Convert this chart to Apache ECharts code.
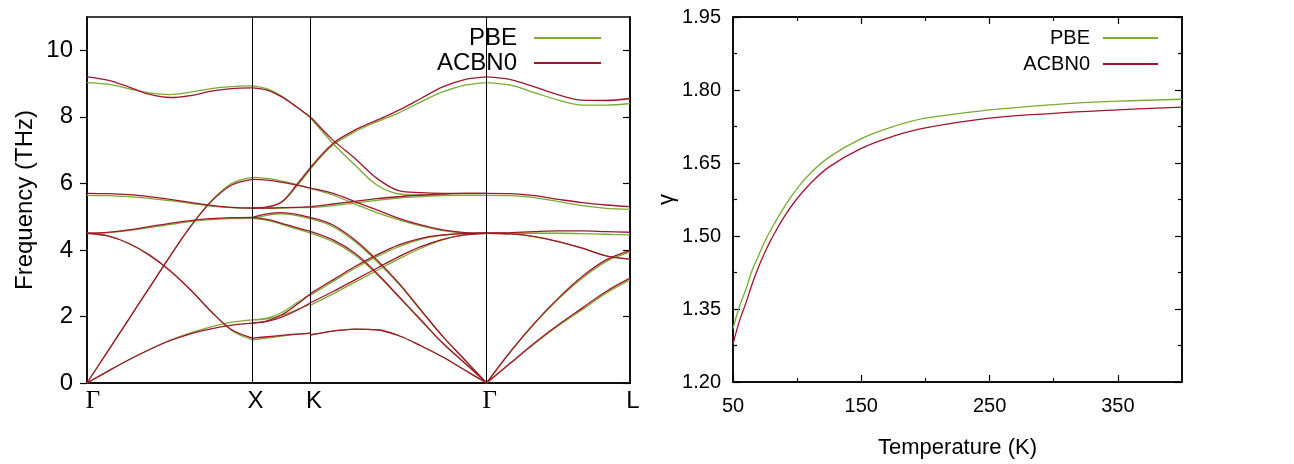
<!DOCTYPE html>
<html><head><meta charset="utf-8">
<script src="https://cdn.jsdelivr.net/npm/echarts@6/dist/echarts.min.js"></script>
<style>html,body{margin:0;padding:0;background:#fff}#c{width:1294px;height:464px}</style>
</head><body><div id="c"></div>
<script>
// ---------- Left panel: phonon dispersion ----------
const kLabels = ['Γ', 'X', 'K', 'Γ', 'L'];
const kPos = [0, 1, 1.3536, 2.4142, 3.2802];
const freqTicks = [0, 2, 4, 6, 8, 10];

// fractional sample positions along each path segment
const tGX = [0, 0.125, 0.25, 0.375, 0.5, 0.625, 0.75, 0.875, 1];
const tXK = [0, 0.25, 0.5, 0.75, 1];
const tKG = [0, 0.125, 0.25, 0.375, 0.5, 0.625, 0.75, 0.875, 1];
const tGL = [0, 1/6, 2/6, 3/6, 4/6, 5/6, 1];

// Γ-X branches (THz)
const acbGX = [
  [0, 0.35, 0.69, 1.0, 1.27, 1.48, 1.63, 1.74, 1.80],
  [0, 0.95, 1.9, 2.85, 3.8, 4.7, 5.45, 5.95, 6.12],
  [4.5, 4.42, 4.2, 3.85, 3.38, 2.8, 2.15, 1.6, 1.35],
  [4.5, 4.53, 4.6, 4.7, 4.8, 4.88, 4.94, 4.97, 4.98],
  [5.7, 5.69, 5.66, 5.6, 5.52, 5.43, 5.34, 5.28, 5.26],
  [9.2, 9.1, 8.9, 8.68, 8.58, 8.64, 8.77, 8.85, 8.87]
];
const pbeGX = [
  [0, 0.35, 0.69, 1.0, 1.28, 1.51, 1.69, 1.83, 1.90],
  [0, 0.95, 1.9, 2.85, 3.8, 4.7, 5.47, 6.0, 6.18],
  [4.5, 4.42, 4.2, 3.85, 3.38, 2.8, 2.15, 1.57, 1.30],
  [4.5, 4.52, 4.58, 4.67, 4.76, 4.85, 4.91, 4.94, 4.95],
  [5.64, 5.63, 5.6, 5.55, 5.48, 5.4, 5.32, 5.27, 5.25],
  [9.03, 8.98, 8.85, 8.72, 8.67, 8.74, 8.85, 8.91, 8.93]
];
// X-K branches
const acbXK = [
  [1.8, 1.87, 2.05, 2.35, 2.7],
  [1.8, 1.85, 1.98, 2.18, 2.42],
  [1.35, 1.39, 1.43, 1.47, 1.5],
  [4.98, 5.08, 5.12, 5.07, 4.97],
  [4.98, 4.92, 4.8, 4.67, 4.55],
  [5.26, 5.26, 5.27, 5.28, 5.3],
  [5.26, 5.29, 5.45, 5.95, 6.5],
  [6.12, 6.1, 6.03, 5.95, 5.85],
  [8.87, 8.8, 8.6, 8.3, 7.98]
];
const pbeXK = [
  [1.9, 1.95, 2.12, 2.4, 2.68],
  [1.9, 1.93, 2.03, 2.2, 2.38],
  [1.30, 1.35, 1.41, 1.46, 1.5],
  [4.95, 5.04, 5.08, 5.03, 4.93],
  [4.95, 4.89, 4.77, 4.63, 4.5],
  [5.25, 5.25, 5.26, 5.27, 5.27],
  [5.25, 5.28, 5.43, 5.9, 6.45],
  [6.18, 6.15, 6.07, 5.97, 5.85],
  [8.93, 8.84, 8.62, 8.3, 7.95]
];
// K-Γ branches
const acbKG = [
  [1.45, 1.56, 1.62, 1.6, 1.42, 1.12, 0.78, 0.39, 0],
  [2.7, 3.1, 3.5, 3.85, 4.15, 4.35, 4.45, 4.49, 4.5],
  [2.42, 2.75, 3.1, 3.45, 3.8, 4.1, 4.32, 4.45, 4.5],
  [4.97, 4.75, 4.3, 3.7, 3.0, 2.2, 1.4, 0.7, 0],
  [4.55, 4.3, 3.9, 3.3, 2.6, 1.9, 1.2, 0.6, 0],
  [5.3, 5.38, 5.46, 5.54, 5.6, 5.65, 5.68, 5.7, 5.7],
  [5.85, 5.7, 5.45, 5.2, 4.95, 4.75, 4.6, 4.52, 4.5],
  [6.5, 7.2, 7.6, 7.9, 8.2, 8.55, 8.9, 9.12, 9.2],
  [7.98, 7.3, 6.75, 6.15, 5.78, 5.72, 5.7, 5.7, 5.7]
];
const pbeKG = [
  [1.45, 1.56, 1.62, 1.6, 1.42, 1.12, 0.78, 0.39, 0],
  [2.65, 3.05, 3.45, 3.8, 4.1, 4.32, 4.44, 4.49, 4.5],
  [2.35, 2.68, 3.03, 3.38, 3.73, 4.05, 4.3, 4.45, 4.5],
  [4.93, 4.7, 4.25, 3.65, 2.97, 2.18, 1.4, 0.7, 0],
  [4.5, 4.25, 3.85, 3.27, 2.58, 1.88, 1.19, 0.6, 0],
  [5.27, 5.33, 5.41, 5.49, 5.56, 5.6, 5.63, 5.64, 5.64],
  [5.85, 5.65, 5.38, 5.12, 4.9, 4.72, 4.58, 4.51, 4.5],
  [6.45, 7.15, 7.55, 7.85, 8.12, 8.45, 8.75, 8.95, 9.03],
  [7.95, 7.2, 6.55, 5.95, 5.68, 5.64, 5.64, 5.64, 5.64]
];
// Γ-L branches
const acbGL = [
  [9.2, 9.12, 8.9, 8.66, 8.5, 8.49, 8.55],
  [5.7, 5.69, 5.63, 5.52, 5.42, 5.35, 5.3],
  [4.5, 4.52, 4.55, 4.57, 4.57, 4.55, 4.53],
  [4.5, 4.48, 4.4, 4.25, 4.05, 3.82, 3.72],
  [0, 0.95, 1.8, 2.55, 3.2, 3.7, 3.98],
  [0, 0.6, 1.2, 1.75, 2.25, 2.75, 3.15]
];
const pbeGL = [
  [9.03, 8.95, 8.73, 8.5, 8.35, 8.35, 8.4],
  [5.64, 5.63, 5.57, 5.45, 5.33, 5.25, 5.22],
  [4.5, 4.5, 4.5, 4.5, 4.49, 4.47, 4.45],
  [4.5, 4.48, 4.4, 4.25, 4.05, 3.82, 3.72],
  [0, 0.94, 1.78, 2.52, 3.15, 3.65, 3.93],
  [0, 0.6, 1.18, 1.72, 2.2, 2.7, 3.1]
];

// ---------- Right panel: gamma vs temperature ----------
const temps = [50, 55, 60, 65, 70, 75, 80, 90, 100, 110, 125, 150, 175, 200, 250, 300, 350, 400];
const gammaPBE = [1.31, 1.355, 1.39, 1.43, 1.46, 1.49, 1.515, 1.56, 1.598, 1.628, 1.662, 1.70, 1.725, 1.742, 1.759, 1.77, 1.777, 1.781];
const gammaACBN0 = [1.278, 1.325, 1.362, 1.402, 1.437, 1.467, 1.494, 1.54, 1.577, 1.607, 1.642, 1.68, 1.705, 1.722, 1.742, 1.752, 1.759, 1.765];
const tempMajor = [50, 150, 250, 350];
const tempMinor = [100, 200, 300];

const GREEN = '#77ac30', RED = '#a2142f';
const FONT = 'Liberation Sans, Arial, Helvetica, sans-serif';

const series = [];
function addSegs(name, color, z, segs) {
  segs.forEach(([i0, i1, ts, bands]) => {
    const x0 = kPos[i0], x1 = kPos[i1];
    bands.forEach(b => {
      series.push({
        type: 'line', name, xAxisIndex: 0, yAxisIndex: 0, z,
        data: ts.map((t, i) => [x0 + t * (x1 - x0), b[i]]),
        smooth: 0.35, symbol: 'none', showSymbol: false,
        lineStyle: { color, width: 1.3 }, itemStyle: { color },
        silent: true, animation: false
      });
    });
  });
}
addSegs('PBE', GREEN, 2, [[0, 1, tGX, pbeGX], [1, 2, tXK, pbeXK], [2, 3, tKG, pbeKG], [3, 4, tGL, pbeGL]]);
addSegs('ACBN0', RED, 3, [[0, 1, tGX, acbGX], [1, 2, tXK, acbXK], [2, 3, tKG, acbKG], [3, 4, tGL, acbGL]]);

// vertical high-symmetry lines
series[0].markLine = {
  silent: true, symbol: 'none', label: { show: false }, animation: false,
  lineStyle: { color: '#000', width: 1, type: 'solid' },
  data: kPos.slice(1, 4).map(v => ({ xAxis: v }))
};

series.push({
  type: 'line', name: 'PBE', xAxisIndex: 1, yAxisIndex: 2, z: 2,
  data: temps.map((t, i) => [t, gammaPBE[i]]), smooth: 0.4, symbol: 'none',
  lineStyle: { color: GREEN, width: 1.3 }, itemStyle: { color: GREEN }, animation: false
});
series.push({
  type: 'line', name: 'ACBN0', xAxisIndex: 1, yAxisIndex: 2, z: 3,
  data: temps.map((t, i) => [t, gammaACBN0[i]]), smooth: 0.4, symbol: 'none',
  lineStyle: { color: RED, width: 1.3 }, itemStyle: { color: RED }, animation: false
});

const axLine = { show: true, lineStyle: { color: '#000', width: 1.5 } };
const tickStyle = { color: '#000', width: 1.2 };

function kLabel(v) {
  let idx = 0, best = 1e9;
  kPos.forEach((p, i) => { if (Math.abs(p - v) < best) { best = Math.abs(p - v); idx = i; } });
  const s = kLabels[idx];
  if (idx === 0) return '{g0|' + s + '}';
  if (s === 'Γ') return '{g|' + s + '}';
  return '{s|' + s + '}';
}

const option = {
  backgroundColor: '#fff',
  animation: false,
  textStyle: { fontFamily: FONT, color: '#000' },
  grid: [
    { left: 87, top: 17, width: 543, height: 366, show: true, borderColor: '#000', borderWidth: 1.5, backgroundColor: 'transparent' },
    { left: 733, top: 17, width: 449, height: 366, show: true, borderColor: '#000', borderWidth: 1.5, backgroundColor: 'transparent' }
  ],
  legend: [
    { data: ['PBE', 'ACBN0'], orient: 'vertical', align: 'right', right: 693, top: 26, itemGap: 1, padding: 0,
      itemWidth: 67, itemHeight: 2, icon: 'rect', selectedMode: false,
      textStyle: { fontSize: 24, fontFamily: FONT, color: '#000', padding: [0, 12, 0, 0] } },
    { data: ['PBE', 'ACBN0'], orient: 'vertical', align: 'right', right: 136, top: 28, itemGap: 6, padding: 0,
      itemWidth: 55, itemHeight: 2, icon: 'rect', selectedMode: false,
      textStyle: { fontSize: 20, fontFamily: FONT, color: '#000', padding: [0, 8, 0, 0] } }
  ],
  xAxis: [
    { type: 'value', gridIndex: 0, min: 0, max: kPos[4], position: 'bottom',
      axisLine: axLine, axisTick: { show: false }, splitLine: { show: false },
      axisLabel: { customValues: kPos, margin: 6, color: '#000', formatter: kLabel,
        rich: {
          g0: { fontFamily: 'Liberation Serif, DejaVu Serif, serif', fontSize: 25, color: '#000', padding: [0, 0, 0, 12] },
          g: { fontFamily: 'Liberation Serif, DejaVu Serif, serif', fontSize: 25, color: '#000', padding: [0, 0, 0, 6] },
          s: { fontFamily: FONT, fontSize: 24, color: '#000', padding: [0, 0, 0, 6] }
        } } },
    { type: 'value', gridIndex: 1, min: 50, max: 400, position: 'bottom',
      axisLine: axLine, splitLine: { show: false },
      axisTick: { show: true, inside: true, length: 7, customValues: tempMajor, lineStyle: tickStyle },
      axisLabel: { customValues: tempMajor, fontSize: 20, margin: 14, color: '#000', fontFamily: FONT },
      name: 'Temperature (K)', nameLocation: 'middle', nameGap: 55,
      nameTextStyle: { fontSize: 22, fontFamily: FONT, color: '#000' } },
    { type: 'value', gridIndex: 1, min: 50, max: 400, position: 'top',
      axisLine: axLine, splitLine: { show: false }, axisLabel: { show: false },
      axisTick: { show: true, inside: true, length: 7, customValues: tempMajor, lineStyle: tickStyle } },
    { type: 'value', gridIndex: 1, min: 50, max: 400, position: 'bottom',
      axisLine: { show: false }, splitLine: { show: false }, axisLabel: { show: false },
      axisTick: { show: true, inside: true, length: 4, customValues: tempMinor, lineStyle: tickStyle } },
    { type: 'value', gridIndex: 1, min: 50, max: 400, position: 'top',
      axisLine: { show: false }, splitLine: { show: false }, axisLabel: { show: false },
      axisTick: { show: true, inside: true, length: 4, customValues: tempMinor, lineStyle: tickStyle } }
  ],
  yAxis: [
    { type: 'value', gridIndex: 0, min: 0, max: 11, interval: 2, position: 'left',
      axisLine: axLine, splitLine: { show: false },
      axisTick: { show: true, inside: false, length: 7, customValues: freqTicks, lineStyle: tickStyle },
      axisLabel: { customValues: freqTicks, fontSize: 24, margin: 14, color: '#000', fontFamily: FONT },
      name: 'Frequency (THz)', nameLocation: 'middle', nameGap: 50,
      nameTextStyle: { fontSize: 24, fontFamily: FONT, color: '#000' } },
    { type: 'value', gridIndex: 0, min: 0, max: 11, interval: 2, position: 'right',
      axisLine: axLine, splitLine: { show: false }, axisLabel: { show: false },
      axisTick: { show: true, inside: true, length: 7, customValues: freqTicks, lineStyle: tickStyle } },
    { type: 'value', gridIndex: 1, min: 1.2, max: 1.95, interval: 0.15, position: 'left',
      axisLine: axLine, splitLine: { show: false },
      axisTick: { show: true, inside: true, length: 7, lineStyle: tickStyle },
      minorTick: { show: true, splitNumber: 2, length: 4, lineStyle: tickStyle },
      axisLabel: { fontSize: 20, margin: 12, color: '#000', fontFamily: FONT, formatter: v => v.toFixed(2) },
      name: 'γ', nameLocation: 'middle', nameGap: 52,
      nameTextStyle: { fontSize: 22, fontFamily: FONT, color: '#000' } },
    { type: 'value', gridIndex: 1, min: 1.2, max: 1.95, interval: 0.15, position: 'right',
      axisLine: axLine, splitLine: { show: false }, axisLabel: { show: false },
      axisTick: { show: true, inside: true, length: 7, lineStyle: tickStyle },
      minorTick: { show: true, splitNumber: 2, length: 4, lineStyle: tickStyle } }
  ],
  series
};

const chart = echarts.init(document.getElementById('c'), null, { renderer: 'canvas' });
chart.setOption(option);
</script>
</body></html>
